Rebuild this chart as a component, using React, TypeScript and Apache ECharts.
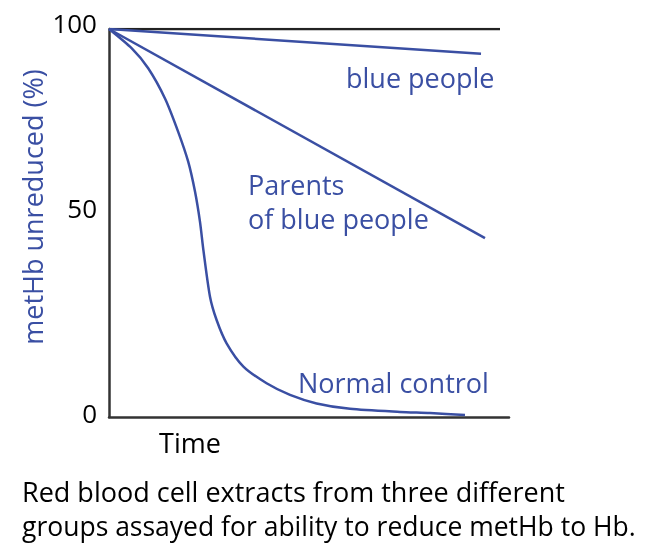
import React, { useEffect, useRef } from "react";
import * as echarts from "echarts";

const yTicks = [0, 50, 100];
const bluePeople: [number, number][] = [[0, 100], [93, 93.6]];
const parents: [number, number][] = [[0, 100], [94, 46.1]];
const normalControl: [number, number][] = [
  [0, 100], [5.7, 95.0], [9.8, 89.9], [14, 82.1], [17.3, 73.5], [19.8, 65.8], [21.5, 58.1],
  [22.75, 50.3], [23.6, 43.0], [25.25, 31.0], [26.9, 25.0], [29.4, 19.0], [33.6, 13.0],
  [39.4, 8.7], [45.25, 5.7], [51.9, 3.5], [60.25, 2.1], [72.75, 1.3], [80.25, 1.0], [89, 0.5],
];
const topLine: [number, number][] = [[0, 100], [97.75, 100]];
const caption = [
  "Red blood cell extracts from three different",
  "groups assayed for ability to reduce metHb to Hb.",
];

const BLUE = "#3a4fa3";
const FONT = "'Open Sans', 'Noto Sans', sans-serif";

export default function App() {
  const ref = useRef<HTMLDivElement>(null);
  useEffect(() => {
    const chart = echarts.init(ref.current!, null, { renderer: "svg" });
    const lineSeries = (name: string, data: [number, number][], smooth: number | boolean = false, color = BLUE, width = 2.5) => ({
      name,
      type: "line",
      data,
      smooth,
      symbol: "none",
      lineStyle: { color, width },
      z: 3,
    });
    chart.setOption({
      animation: false,
      grid: { left: 109, top: 29, width: 400, height: 388 },
      xAxis: {
        type: "value", min: 0, max: 100,
        axisLine: { show: true, lineStyle: { color: "#333", width: 2.5 } },
        axisTick: { show: false }, axisLabel: { show: false }, splitLine: { show: false },
      },
      yAxis: {
        type: "value", min: 0, max: 100, interval: 50,
        axisLine: { show: true, lineStyle: { color: "#333", width: 2.5 } },
        axisTick: { show: false }, splitLine: { show: false },
        axisLabel: {
          margin: 12, fontSize: 26, color: "#000", fontFamily: FONT,
          formatter: (v: number) => (yTicks.includes(v) ? (v === 50 ? "{m|50}" : v === 100 ? "{t|100}" : "{z|0}") : ""),
          rich: {
            m: { fontSize: 26, color: "#000", fontFamily: FONT, padding: [0, 0, 30, 0] },
            t: { fontSize: 26, color: "#000", fontFamily: FONT, padding: [0, 0, 12, 0] },
            z: { fontSize: 26, color: "#000", fontFamily: FONT, padding: [0, 0, 8, 0] },
          },
        },
      },
      series: [
        lineSeries("top", topLine, false, "#222", 2.5),
        lineSeries("blue people", bluePeople),
        lineSeries("Parents of blue people", parents),
        lineSeries("Normal control", normalControl, 0.25),
      ],
      graphic: [
        { type: "text", x: 32, y: 207, rotation: Math.PI / 2, style: { text: "metHb unreduced (%)", fill: BLUE, font: `27px ${FONT}`, align: "center", verticalAlign: "middle" } },
        { type: "text", x: 190, y: 442, style: { text: "Time", fill: "#000", font: `27px ${FONT}`, align: "center", verticalAlign: "middle" } },
        { type: "text", x: 346, y: 77, style: { text: "blue people", fill: BLUE, font: `27px ${FONT}`, align: "left", verticalAlign: "middle" } },
        { type: "text", x: 248, y: 184, style: { text: "Parents", fill: BLUE, font: `27px ${FONT}`, align: "left", verticalAlign: "middle" } },
        { type: "text", x: 248, y: 218, style: { text: "of blue people", fill: BLUE, font: `27px ${FONT}`, align: "left", verticalAlign: "middle" } },
        { type: "text", x: 298, y: 382, style: { text: "Normal control", fill: BLUE, font: `27px ${FONT}`, align: "left", verticalAlign: "middle" } },
        { type: "text", x: 22, y: 491, style: { text: caption[0], fill: "#000", font: `27px ${FONT}`, align: "left", verticalAlign: "middle" } },
        { type: "text", x: 22, y: 526, style: { text: caption[1], fill: "#000", font: `26.5px ${FONT}`, align: "left", verticalAlign: "middle" } },
      ],
    });
    return () => chart.dispose();
  }, []);
  return <div ref={ref} style={{ position: "fixed", left: 0, top: 0, width: 655, height: 556 }} />;
}
